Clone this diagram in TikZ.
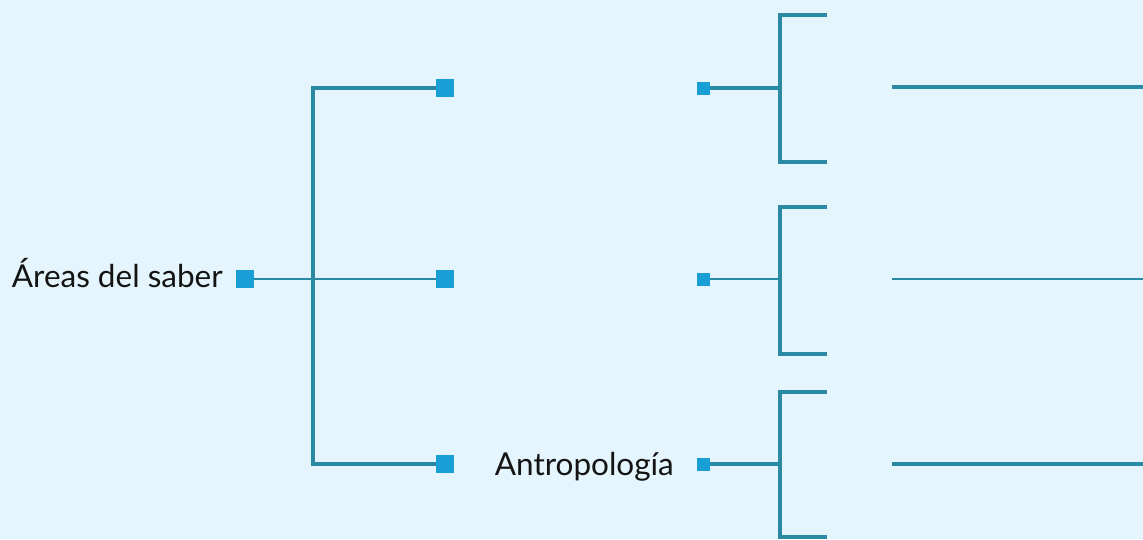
\documentclass[tikz,border=0pt]{standalone}
\usepackage{fontspec}
\setmainfont{Lato}
\definecolor{bgc}{HTML}{E4F5FD}
\definecolor{sqc}{HTML}{1A9ED6}
\definecolor{lnc}{HTML}{2A8AA4}
\definecolor{txc}{HTML}{141414}
\begin{document}
\begin{tikzpicture}[x=1pt,y=-1pt,
  bigsq/.style={fill=sqc,draw=none,minimum size=18pt,inner sep=0pt,outer sep=0pt},
  smallsq/.style={fill=sqc,draw=none,minimum size=13pt,inner sep=0pt,outer sep=0pt},
  thick line/.style={draw=lnc,line width=3.4pt},
  thin line/.style={draw=lnc,line width=1.9pt},
  lbl/.style={text=txc,font=\fontsize{31.5}{33}\selectfont,inner sep=0pt}]
\fill[bgc] (0,0) rectangle (1143,539);
\useasboundingbox (0,0) rectangle (1143,539);
% root
\node[bigsq] (root) at (245,279) {};
\node[lbl,anchor=base east] (rootlbl) at (223,287) {Áreas del saber};
% second level squares
\node[bigsq] (s1) at (445,88) {};
\node[bigsq] (s2) at (445,279) {};
\node[bigsq] (s3) at (445,464) {};
\coordinate (v1) at (313,88);
\coordinate (v3) at (313,464);
\draw[thick line] (s1.west) -- (v1) -- (v3) -- (s3.west);
\draw[thin line] (root.east) -- (s2.west);
% third level small squares
\node[smallsq] (t1) at (703,88) {};
\node[smallsq] (t2) at (703,279) {};
\node[smallsq] (t3) at (703,464) {};
\node[lbl,anchor=base east] (antlbl) at (674,475) {Antropología};
% brackets
\coordinate (b1) at (780,88);
\coordinate (b1t) at (780,15);
\coordinate (b1b) at (780,162);
\coordinate (b1te) at (827,15);
\coordinate (b1be) at (827,162);
\coordinate (b2) at (780,279);
\coordinate (b2t) at (780,207);
\coordinate (b2b) at (780,354);
\coordinate (b2te) at (827,207);
\coordinate (b2be) at (827,354);
\coordinate (b3) at (780,464);
\coordinate (b3t) at (780,392);
\coordinate (b3b) at (780,537);
\coordinate (b3te) at (827,392);
\coordinate (b3be) at (827,537);
\draw[thick line] (t1.east) -- (b1);
\draw[thin line] (t2.east) -- (b2);
\draw[thick line] (t3.east) -- (b3);
\foreach \b in {b1,b2,b3}{
  \draw[thick line] (\b te) -- (\b t) -- (\b b) -- (\b be);
}
% long lines
\coordinate (l1s) at (892,87);
\coordinate (l1e) at (1143,87);
\coordinate (l2s) at (892,279);
\coordinate (l2e) at (1143,279);
\coordinate (l3s) at (892,464);
\coordinate (l3e) at (1143,464);
\draw[thick line] (l1s) -- (l1e);
\draw[thin line] (l2s) -- (l2e);
\draw[thick line] (l3s) -- (l3e);
\end{tikzpicture}
\end{document}
